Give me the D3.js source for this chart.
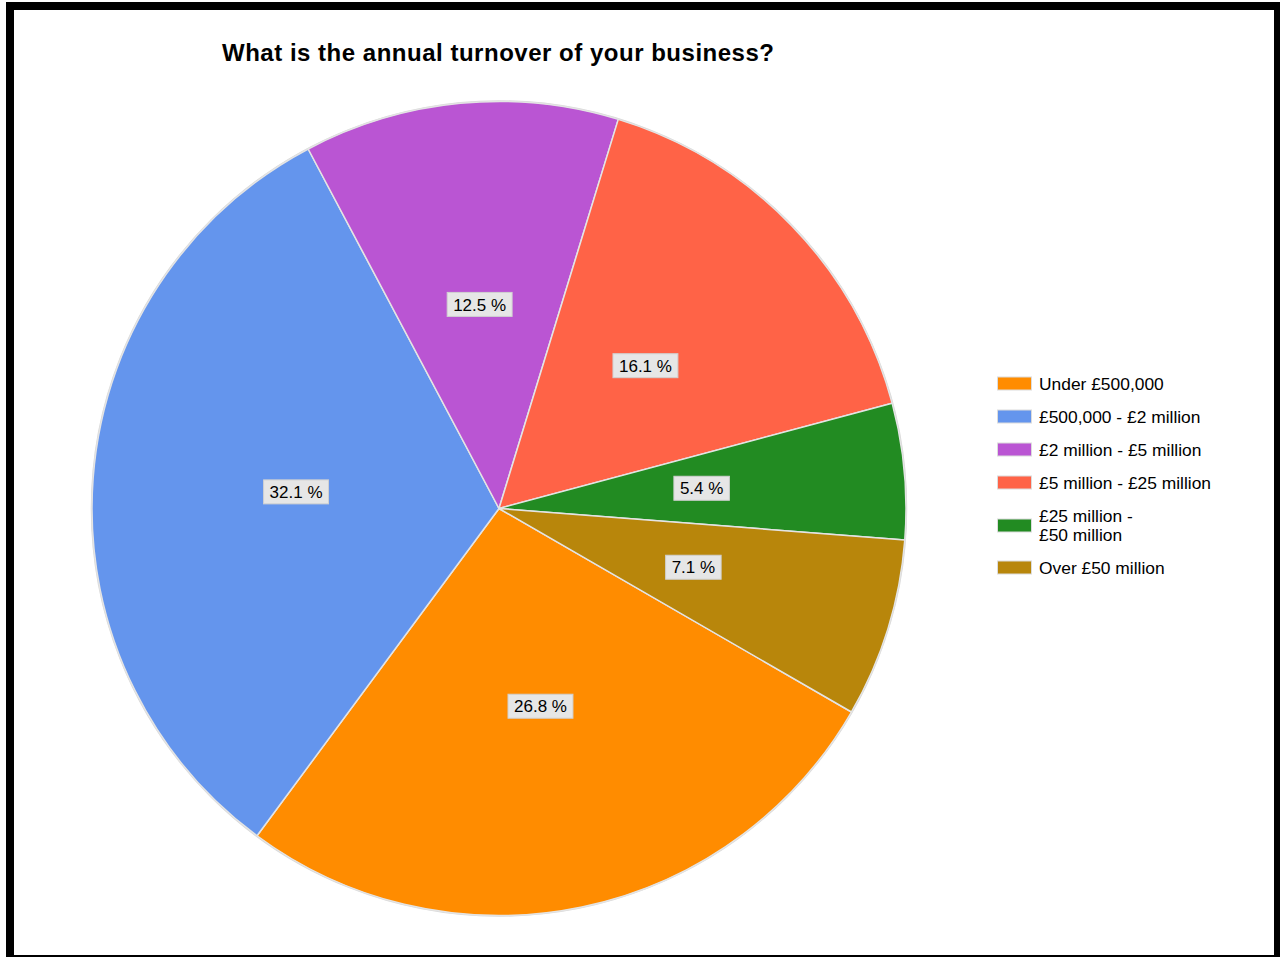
<!DOCTYPE html>
<html>
<head>
<meta charset="utf-8">
<script src="https://cdn.jsdelivr.net/npm/d3@7/dist/d3.min.js"></script>
<style>
  html, body { margin: 0; padding: 0; background: #fff; }
  svg { display: block; }
</style>
</head>
<body>
<svg id="chart" width="1280" height="957"></svg>
<script>
const title = "What is the annual turnover of your business?";
const categories = ["Under £500,000", "£500,000 - £2 million", "£2 million - £5 million", "£5 million - £25 million", "£25 million - £50 million", "Over £50 million"];
const legendLines = [["Under £500,000"], ["£500,000 - £2 million"], ["£2 million - £5 million"], ["£5 million - £25 million"], ["£25 million -", "£50 million"], ["Over £50 million"]];
const values = [26.8, 32.1, 12.5, 16.1, 5.4, 7.1];
const colors = ["#FF8C00", "#6495ED", "#BA55D3", "#FF6347", "#228B22", "#B8860B"];

const svg = d3.select("#chart");
const W = 1280, H = 957;
svg.append("rect").attr("x", 0).attr("y", 0).attr("width", W).attr("height", H).attr("fill", "#fff");

// frame
svg.append("rect")
  .attr("x", 10).attr("y", 6).attr("width", 1268).attr("height", 953)
  .attr("fill", "none").attr("stroke", "#000").attr("stroke-width", 8);

// title
svg.append("text")
  .attr("x", 498).attr("y", 61)
  .attr("text-anchor", "middle")
  .attr("font-family", "'Liberation Sans', Arial, sans-serif")
  .attr("font-weight", "bold")
  .attr("font-size", 24)
  .attr("textLength", 552)
  .attr("lengthAdjust", "spacing")
  .attr("fill", "#000")
  .text(title);

const cx = 499, cy = 508.5, R = 407;
const data = categories.map((c, i) => ({ cat: c, value: values[i], color: colors[i] }));

const pie = d3.pie().sort(null).value(d => d.value)
  .startAngle(120 * Math.PI / 180)
  .endAngle(120 * Math.PI / 180 + 2 * Math.PI);
const arcs = pie(data);
const arc = d3.arc().innerRadius(0).outerRadius(R);
const labelArc = d3.arc().innerRadius(R * 0.5).outerRadius(R * 0.5);

const g = svg.append("g").attr("transform", `translate(${cx},${cy})`);

// soft outer halo
g.append("circle").attr("r", R + 0.5).attr("fill", "none").attr("stroke", "#d8d8d8").attr("stroke-width", 1.5);

g.selectAll("path.slice").data(arcs).enter().append("path")
  .attr("class", "slice")
  .attr("d", arc)
  .attr("fill", d => d.data.color)
  .attr("stroke", "#e4e4e4")
  .attr("stroke-width", 1.5)
  .attr("stroke-linejoin", "round");

const fmt = d => d3.format(".1f")(d) + " %";
const lbl = g.selectAll("g.lbl").data(arcs).enter().append("g")
  .attr("class", "lbl")
  .attr("transform", d => { const p = labelArc.centroid(d); return `translate(${p[0]},${p[1] - 1.5})`; });

lbl.each(function(d) {
  const s = d3.select(this);
  const t = s.append("text")
    .attr("text-anchor", "middle")
    .attr("dy", "0.36em")
    .attr("font-family", "'Liberation Sans', Arial, sans-serif")
    .attr("font-size", 17)
    .attr("fill", "#000")
    .text(fmt(d.data.value));
  const bb = t.node().getBBox();
  s.insert("rect", "text")
    .attr("x", bb.x - 6).attr("y", -12)
    .attr("width", bb.width + 12).attr("height", 24)
    .attr("fill", "#e6e6e6")
    .attr("stroke", "#d0d0d0")
    .attr("stroke-width", 1);
});

// legend
const legendY = [383.5, 416.5, 449.5, 482.5, 525.5, 567.5];
const lg = svg.append("g");
data.forEach((d, i) => {
  const y = legendY[i];
  lg.append("rect")
    .attr("x", 997.5).attr("y", y - 6.5).attr("width", 34).attr("height", 13)
    .attr("fill", d.color).attr("stroke", "#dcdcdc").attr("stroke-width", 1);
  const lines = legendLines[i];
  const t = lg.append("text")
    .attr("font-family", "'Liberation Sans', Arial, sans-serif")
    .attr("font-size", 17.4)
    .attr("fill", "#000");
  lines.forEach((ln, j) => {
    t.append("tspan")
      .attr("x", 1039)
      .attr("y", y + 6 - (lines.length - 1) * 9.5 + j * 19)
      .text(ln);
  });
});
</script>
</body>
</html>
